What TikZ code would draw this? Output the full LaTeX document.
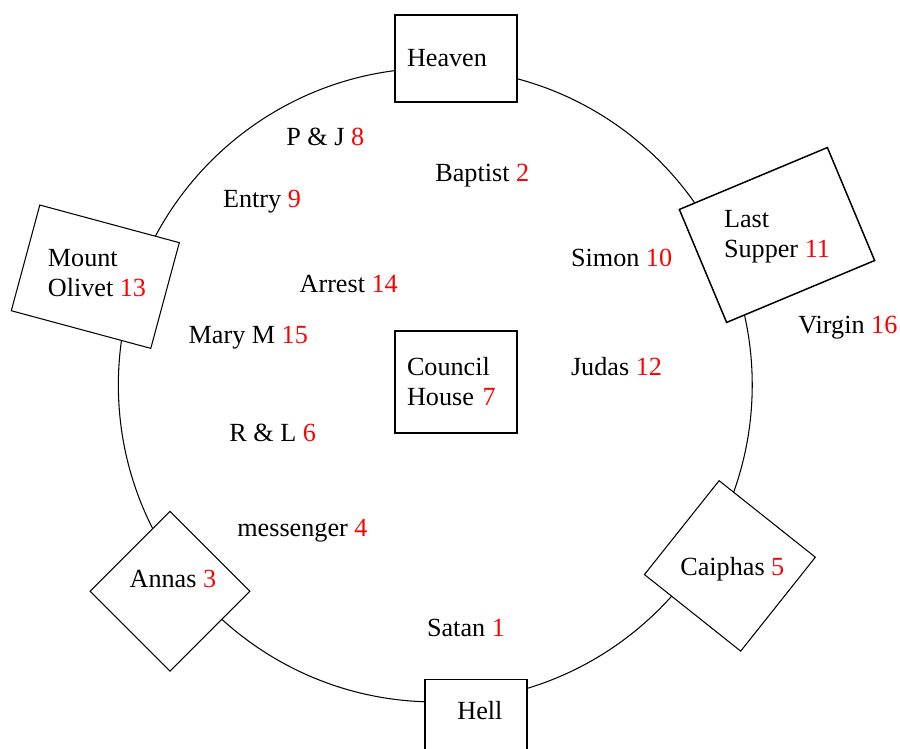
\documentclass[tikz,border=0pt]{standalone}
\usepackage{fontspec}
\setmainfont{Liberation Serif}
\usepackage{xcolor}
\usepackage{tikz}
\usetikzlibrary{positioning}
\definecolor{SceneNo}{HTML}{FF0000}
\newcommand{\scn}[1]{\textcolor{SceneNo}{#1}}

\begin{document}
\begin{tikzpicture}[x=0.02cm,y=-0.02cm,
    frame/.style={draw,fill=white,line width=0.6pt,inner sep=0pt},
    lbl/.style={inner sep=0pt,font=\fontsize{14.9}{17.07}\selectfont},
    room/.style={frame,lbl,text width=1.96cm,inner xsep=0.24cm,align=left},
    scene/.style={lbl,anchor=base west}]
  \useasboundingbox (0,0) rectangle (900,749);
  \draw[line width=0.6pt] (435.3,385) circle[radius=6.34cm];

  \node[room, minimum height=1.74cm] (heaven) at (456,58.5) {Heaven};
  \node[room, minimum height=2.04cm] (council) at (456,382) {Council\\House \scn{7}};
  \node[frame, minimum width=2.04cm, minimum height=1.74cm, anchor=north] (hell) at (476,679) {};
  \node[frame, minimum width=3.21cm, minimum height=2.45cm, rotate=22.7, line width=0.85pt] (supper) at (777,235) {};
  \node[frame, minimum width=2.89cm, minimum height=2.19cm, rotate=-15.1] (olivet) at (95.3,276.7) {};
  \node[frame, minimum width=2.26cm, minimum height=2.26cm, rotate=45] (annas) at (170,591.2) {};
  \node[frame, minimum width=2.46cm, minimum height=2.40cm, rotate=-38.5] (caiphas) at (729.9,565.9) {};

  \node[scene] (hellT) at (457,720) {Hell};
  \node[lbl, align=left] (supperT) at (777,237.2) {Last\\Supper \scn{11}};
  \node[lbl, align=left] (olivetT) at (97,273.3) {Mount\\Olivet \scn{13}};
  \node[scene] (annasT) at (129.3,587.3) {Annas \scn{3}};
  \node[scene] (caiphasT) at (680,576) {Caiphas \scn{5}};

  \node[scene] (satan) at (426.7,636.7) {Satan \scn{1}};
  \node[scene] (baptist) at (435,181.7) {Baptist \scn{2}};
  \node[scene] (messenger) at (237,536.5) {messenger \scn{4}};
  \node[scene] (rl) at (229,441.7) {R \& L \scn{6}};
  \node[scene] (pj) at (286,145.7) {P \& J \scn{8}};
  \node[scene] (entry) at (222.7,207.3) {Entry \scn{9}};
  \node[scene] (simon) at (570.7,266.7) {Simon \scn{10}};
  \node[scene] (judas) at (570.7,376) {Judas \scn{12}};
  \node[scene] (arrest) at (299.3,292.3) {Arrest \scn{14}};
  \node[scene] (marym) at (188.3,343.3) {Mary M \scn{15}};
  \node[scene] (virgin) at (798,334) {Virgin \scn{16}};
\end{tikzpicture}
\end{document}
